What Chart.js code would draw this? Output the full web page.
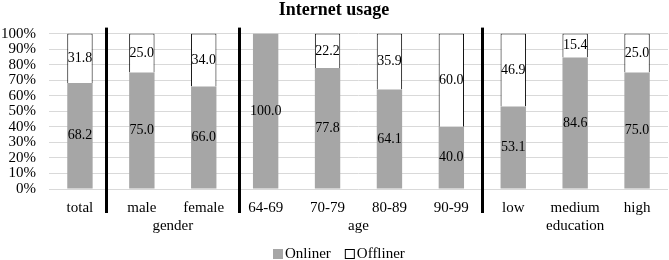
<!DOCTYPE html>
<html>
<head>
<meta charset="utf-8">
<script src="https://cdn.jsdelivr.net/npm/chart.js@4/dist/chart.umd.min.js"></script>
<style>
  html, body { margin: 0; padding: 0; background: #fff; }
  #wrap { width: 669px; height: 260px; }
</style>
</head>
<body>
<div id="wrap"><canvas id="usageChart" width="669" height="260"></canvas></div>
<script>
// Dados do gráfico
const categories = ['total', 'male', 'female', '64-69', '70-79', '80-89', '90-99', 'low', 'medium', 'high'];
const onliner = [68.2, 75.0, 66.0, 100.0, 77.8, 64.1, 40.0, 53.1, 84.6, 75.0];
const offliner = [31.8, 25.0, 34.0, 0.0, 22.2, 35.9, 60.0, 46.9, 15.4, 25.0];
const groupLabels = ['gender', 'age', 'education'];
const groupFrom = [1, 3, 7];
const groupTo = [2, 6, 9];
const yTicks = [0, 10, 20, 30, 40, 50, 60, 70, 80, 90, 100];

const serif = '"Liberation Serif", "Times New Roman", serif';

// Rótulos de valor no meio de cada segmento
const valueLabels = {
    id: 'valueLabels',
    afterDatasetsDraw(chart) {
        const ctx = chart.ctx;
        ctx.save();
        ctx.font = '14px ' + serif;
        ctx.fillStyle = '#000';
        ctx.textAlign = 'center';
        ctx.textBaseline = 'middle';
        chart.data.datasets.forEach((ds, di) => {
            chart.getDatasetMeta(di).data.forEach((bar, i) => {
                if (!ds.data[i]) return;
                const y = (bar.y + bar.base) / 2;
                ctx.fillText(ds.data[i].toFixed(1), bar.x, y);
            });
        });
        ctx.restore();
    }
};

// Linhas pretas separando os grupos, nomes dos grupos e legenda
const groupDecor = {
    id: 'groupDecor',
    afterDraw(chart) {
        const ctx = chart.ctx;
        const x = chart.scales.x;
        const area = chart.chartArea;
        const slot = x.getPixelForValue(1) - x.getPixelForValue(0);
        ctx.save();
        ctx.strokeStyle = '#000';
        ctx.lineWidth = 3;
        [0.42, 2.57, 6.49].forEach(pos => {
            const px = Math.round(x.getPixelForValue(0) + pos * slot) + 0.5;
            ctx.beginPath();
            ctx.moveTo(px, area.top - 6);
            ctx.lineTo(px, area.bottom + 24);
            ctx.stroke();
        });
        ctx.font = '15px ' + serif;
        ctx.fillStyle = '#000';
        ctx.textAlign = 'center';
        ctx.textBaseline = 'middle';
        groupLabels.forEach((g, i) => {
            const cx = (x.getPixelForValue(groupFrom[i]) + x.getPixelForValue(groupTo[i])) / 2;
            ctx.fillText(g, cx, area.bottom + 37);
        });

        // legenda
        const items = chart.data.datasets;
        const gapBox = 2, gapItem = 14, box = 10;
        const widths = items.map(ds => box + gapBox + ctx.measureText(ds.label).width);
        const total = widths.reduce((a, b) => a + b, 0) + gapItem * (items.length - 1);
        let lx = Math.round(chart.width / 2 + 4 - total / 2);
        const ly = area.bottom + 65;
        ctx.textAlign = 'left';
        items.forEach((ds, i) => {
            ctx.fillStyle = ds.backgroundColor;
            ctx.fillRect(lx, ly - 5, box, box);
            if (ds.borderWidth) {
                ctx.strokeStyle = ds.borderColor;
                ctx.lineWidth = 1;
                ctx.strokeRect(lx + 0.5, ly - 4.5, box - 1, box - 1);
            }
            ctx.fillStyle = '#000';
            ctx.fillText(ds.label, lx + box + gapBox, ly);
            lx += widths[i] + gapItem;
        });
        ctx.restore();
    }
};

new Chart(document.getElementById('usageChart'), {
    type: 'bar',
    data: {
        labels: categories,
        datasets: [{
            label: 'Onliner',
            data: onliner,
            backgroundColor: '#a6a6a6',
            borderWidth: 0
        }, {
            label: 'Offliner',
            data: offliner,
            backgroundColor: '#ffffff',
            borderColor: '#000000',
            borderWidth: 1
        }]
    },
    options: {
        responsive: false,
        animation: false,
        devicePixelRatio: 1,
        layout: { padding: { left: 0, right: 1, top: 0, bottom: 0 } },
        datasets: {
            bar: { categoryPercentage: 1, barPercentage: 0.41 }
        },
        scales: {
            x: {
                stacked: true,
                grid: { display: false, drawTicks: false },
                border: { display: false },
                ticks: {
                    color: '#000',
                    font: { family: serif, size: 15 },
                    padding: 10,
                    maxRotation: 0,
                    autoSkip: false
                },
                afterFit(scale) { scale.height = 71; }
            },
            y: {
                stacked: true,
                min: 0,
                max: 100,
                grid: { color: '#d9d9d9', drawTicks: false },
                border: { display: false },
                afterBuildTicks(scale) { scale.ticks = yTicks.map(v => ({ value: v })); },
                ticks: {
                    color: '#000',
                    font: { family: serif, size: 15 },
                    padding: 13,
                    autoSkip: false,
                    callback: v => v + '%'
                },
                afterFit(scale) { scale.width = 49; }
            }
        },
        plugins: {
            title: {
                display: true,
                text: 'Internet usage',
                color: '#000',
                font: { family: serif, size: 18, weight: 'bold' },
                padding: { top: 0, bottom: 12 }
            },
            legend: { display: false },
            tooltip: { enabled: false }
        }
    },
    plugins: [valueLabels, groupDecor]
});
</script>
</body>
</html>
